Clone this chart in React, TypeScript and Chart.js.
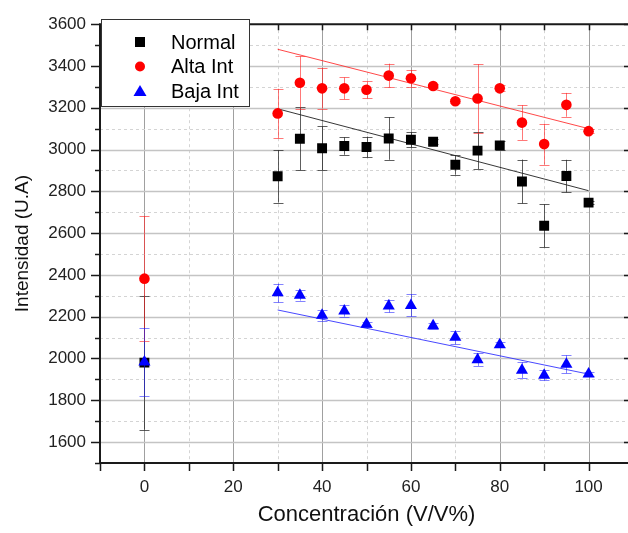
import React, { useEffect, useRef } from 'react';
import { Chart, registerables } from 'chart.js';
Chart.register(...registerables);

// ---- data ----
const concentrations = [0, 30, 35, 40, 45, 50, 55, 60, 65, 70, 75, 80, 85, 90, 95, 100];
const normalValues = [1980, 2872, 3052, 3006, 3017, 3012, 3053, 3047, 3037, 2927, 2995, 3020, 2847, 2635, 2873, 2746];
const normalErrors = [321, 126, 150, 105, 42, 50, 102, 37, 12, 47, 89, 20, 105, 103, 78, 8];
const altaValues = [2382, 3173, 3320, 3293, 3293, 3286, 3354, 3341, 3304, 3231, 3244, 3293, 3129, 3026, 3214, 3088];
const altaErrors = [300, 118, 126, 97, 52, 40, 57, 40, 10, 10, 164, 15, 83, 98, 57, 8];
const bajaValues = [1983, 2314, 2303, 2207, 2227, 2164, 2251, 2254, 2156, 2101, 1994, 2066, 1944, 1920, 1972, 1925];
const bajaErrors = [163, 44, 26, 26, 27, 12, 31, 53, 15, 32, 30, 12, 38, 25, 43, 10];

const fitX = [30, 100];
const normalFit = [3195, 2803];
const altaFit = [3480, 3100];
const bajaFit = [2232, 1925];

const seriesLabels = ['Normal', 'Alta Int', 'Baja Int'];
const xMajorTicks = [0, 20, 40, 60, 80, 100];
const yMajorTicks = [1600, 1800, 2000, 2200, 2400, 2600, 2800, 3000, 3200, 3400, 3600];

const FONT = "'Liberation Sans', Arial, Helvetica, sans-serif";

const toPoints = (xs: number[], ys: number[]) => xs.map((x, i) => ({ x, y: ys[i] }));

const errorSets = [normalErrors, altaErrors, bajaErrors];
const errorColors = ['rgba(40,40,40,0.75)', 'rgba(255,30,30,0.6)', 'rgba(30,30,255,0.55)'];

const framePlugin = {
  id: 'frame',
  beforeDatasetsDraw(chart: any) {
    const { ctx, chartArea: a, scales } = chart;
    const xs = scales.x;
    const ys = scales.y;
    ctx.save();
    xs.ticks.forEach((t: any) => {
      const v = t.value;
      if (v <= xs.min || v >= xs.max) return;
      const px = Math.round(xs.getPixelForValue(v)) + 0.5;
      const major = v % 20 === 0;
      ctx.beginPath();
      ctx.lineWidth = 1;
      ctx.strokeStyle = major ? '#a0a0a0' : '#d4d4d4';
      ctx.setLineDash(major ? [] : [3, 3]);
      ctx.moveTo(px, a.top);
      ctx.lineTo(px, a.bottom);
      ctx.stroke();
    });
    ys.ticks.forEach((t: any) => {
      const v = t.value;
      if (v <= ys.min || v >= ys.max) return;
      const py = Math.round(ys.getPixelForValue(v)) + 0.5;
      const major = v % 200 === 0;
      ctx.beginPath();
      ctx.lineWidth = major ? 1.5 : 1;
      ctx.strokeStyle = major ? '#c4c4c4' : '#d4d4d4';
      ctx.setLineDash(major ? [] : [3, 3]);
      ctx.moveTo(a.left, py);
      ctx.lineTo(a.right, py);
      ctx.stroke();
    });
    ctx.restore();
  },
  beforeDatasetDraw(chart: any, args: any) {
    const idx = args.index;
    if (idx > 2) return;
    const errs = errorSets[idx];
    const ds = chart.data.datasets[idx];
    const { ctx, scales } = chart;
    ctx.save();
    ctx.strokeStyle = errorColors[idx];
    ctx.lineWidth = 1;
    ds.data.forEach((p: any, i: number) => {
      const e = errs[i];
      if (!e) return;
      const px = Math.round(scales.x.getPixelForValue(p.x)) + 0.5;
      const top = scales.y.getPixelForValue(p.y + e);
      const bot = scales.y.getPixelForValue(p.y - e);
      ctx.beginPath();
      ctx.moveTo(px, top);
      ctx.lineTo(px, bot);
      ctx.moveTo(px - 5, Math.round(top) + 0.5);
      ctx.lineTo(px + 5, Math.round(top) + 0.5);
      ctx.moveTo(px - 5, Math.round(bot) + 0.5);
      ctx.lineTo(px + 5, Math.round(bot) + 0.5);
      ctx.stroke();
    });
    ctx.restore();
  },
  afterDatasetsDraw(chart: any) {
    const { ctx, chartArea: a, scales } = chart;
    const xs = scales.x;
    const ys = scales.y;
    ctx.save();
    ctx.strokeStyle = '#1a1a1a';
    ctx.lineWidth = 2;
    ctx.beginPath();
    ctx.rect(a.left, a.top, a.right - a.left, a.bottom - a.top);
    ctx.stroke();
    ctx.lineWidth = 1.5;
    xs.ticks.forEach((t: any) => {
      const v = t.value;
      const px = Math.round(xs.getPixelForValue(v)) + 0.5;
      ctx.beginPath();
      ctx.moveTo(px, a.bottom);
      ctx.lineTo(px, a.bottom + 8);
      ctx.moveTo(px, a.top);
      ctx.lineTo(px, a.top + 6);
      ctx.stroke();
    });
    ys.ticks.forEach((t: any) => {
      const v = t.value;
      const py = Math.round(ys.getPixelForValue(v)) + 0.5;
      const major = v % 200 === 0;
      ctx.beginPath();
      ctx.moveTo(a.left, py);
      ctx.lineTo(a.left - (major ? 9 : 5), py);
      if (major) {
        ctx.moveTo(a.right, py);
        ctx.lineTo(a.right - 9, py);
      }
      ctx.stroke();
    });
    ctx.restore();
  },
  afterDraw(chart: any) {
    const { ctx } = chart;
    ctx.save();
    const bx = 101.5, by = 19.5, bw = 148, bh = 87;
    ctx.fillStyle = '#ffffff';
    ctx.fillRect(bx, by, bw, bh);
    ctx.strokeStyle = '#333333';
    ctx.lineWidth = 1;
    ctx.strokeRect(bx, by, bw, bh);
    const rows = [42, 66.5, 91];
    const colors = ['#000000', '#ff0000', '#0000ff'];
    rows.forEach((ry, i) => {
      const mx = 140;
      ctx.fillStyle = colors[i];
      ctx.beginPath();
      if (i === 0) {
        ctx.rect(mx - 5, ry - 5, 10, 10);
      } else if (i === 1) {
        ctx.arc(mx, ry, 5, 0, Math.PI * 2);
      } else {
        ctx.moveTo(mx, ry - 6);
        ctx.lineTo(mx + 6.5, ry + 5);
        ctx.lineTo(mx - 6.5, ry + 5);
        ctx.closePath();
      }
      ctx.fill();
      ctx.fillStyle = '#000000';
      ctx.font = `20px ${FONT}`;
      ctx.textBaseline = 'middle';
      ctx.textAlign = 'left';
      ctx.fillText(seriesLabels[i], 171, ry + 1);
    });
    ctx.restore();
  },
};

export default function App() {
  const canvasRef = useRef<HTMLCanvasElement | null>(null);
  useEffect(() => {
    const canvas = canvasRef.current;
    if (!canvas) return;
    const chart = new Chart(canvas, {
      type: 'scatter',
      data: {
        datasets: [
          {
            label: seriesLabels[0],
            data: toPoints(concentrations, normalValues),
            pointStyle: 'rect',
            pointRadius: 7,
            backgroundColor: '#000000',
            borderColor: '#000000',
            borderWidth: 0,
            order: 3,
          },
          {
            label: seriesLabels[1],
            data: toPoints(concentrations, altaValues),
            pointStyle: 'circle',
            pointRadius: 5.3,
            backgroundColor: '#ff0000',
            borderColor: '#ff0000',
            borderWidth: 0,
            order: 2,
          },
          {
            label: seriesLabels[2],
            data: toPoints(concentrations, bajaValues),
            pointStyle: 'triangle',
            pointRadius: 7,
            backgroundColor: '#0000ff',
            borderColor: '#0000ff',
            borderWidth: 0,
            order: 1,
          },
          {
            label: 'Normal fit',
            data: toPoints(fitX, normalFit),
            showLine: true,
            pointRadius: 0,
            borderColor: 'rgba(20,20,20,0.85)',
            borderWidth: 1,
            order: 6,
          },
          {
            label: 'Alta fit',
            data: toPoints(fitX, altaFit),
            showLine: true,
            pointRadius: 0,
            borderColor: 'rgba(255,40,40,0.85)',
            borderWidth: 1,
            order: 5,
          },
          {
            label: 'Baja fit',
            data: toPoints(fitX, bajaFit),
            showLine: true,
            pointRadius: 0,
            borderColor: 'rgba(40,40,255,0.85)',
            borderWidth: 1,
            order: 4,
          },
        ],
      },
      options: {
        responsive: false,
        animation: false,
        devicePixelRatio: 1,
        layout: { padding: { top: 18, right: 7.3, left: 0, bottom: 0 } },
        plugins: {
          legend: { display: false },
          tooltip: { enabled: false },
        },
        scales: {
          x: {
            type: 'linear',
            min: -10,
            max: 110,
            grid: { display: false, drawTicks: false },
            border: { display: false },
            ticks: {
              stepSize: 10,
              autoSkip: false,
              maxRotation: 0,
              padding: 14,
              color: '#222222',
              font: { family: FONT, size: 17 },
              callback: (v: any) => (xMajorTicks.includes(Number(v)) ? String(v) : ''),
            },
            title: {
              display: true,
              text: 'Concentración (V/V%)',
              color: '#111111',
              font: { family: FONT, size: 22 },
              padding: { top: 0, bottom: 5 },
            },
            afterFit: (s: any) => {
              s.height = 70.1;
            },
          },
          y: {
            type: 'linear',
            min: 1500,
            max: 3600,
            grid: { display: false, drawTicks: false },
            border: { display: false },
            ticks: {
              stepSize: 100,
              autoSkip: false,
              padding: 14,
              color: '#222222',
              font: { family: FONT, size: 17 },
              callback: (v: any) => (yMajorTicks.includes(Number(v)) ? String(v) : ''),
            },
            title: {
              display: true,
              text: 'Intensidad (U.A)',
              color: '#111111',
              font: { family: FONT, size: 19 },
              padding: { top: 11, bottom: 0 },
            },
            afterFit: (s: any) => {
              s.width = 100;
            },
          },
        },
      },
      plugins: [framePlugin],
    } as any);
    return () => chart.destroy();
  }, []);

  return (
    <div
      style={{
        position: 'fixed',
        left: 0,
        top: 0,
        width: 628,
        height: 533,
        overflow: 'hidden',
        background: '#ffffff',
      }}
    >
      <canvas ref={canvasRef} width={647} height={533} style={{ width: 647, height: 533, display: 'block' }} />
    </div>
  );
}
